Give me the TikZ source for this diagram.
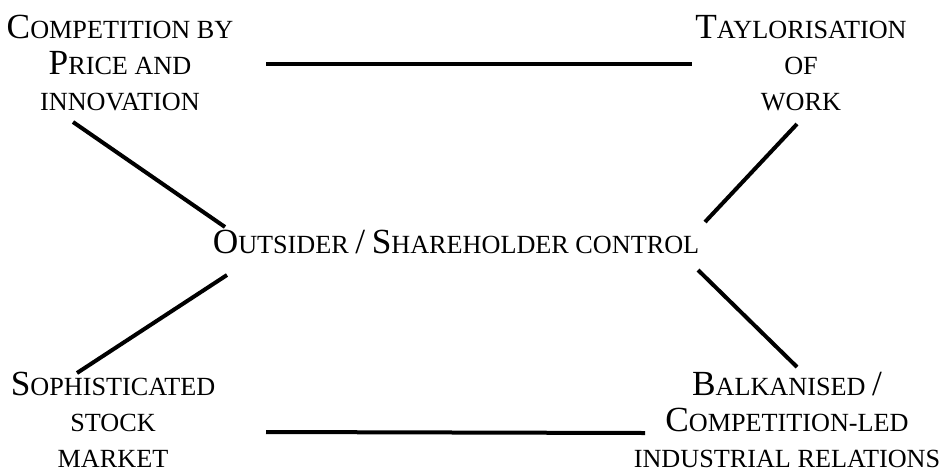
\documentclass[tikz,border=0pt]{standalone}
\usepackage{fontspec}
\setmainfont{Liberation Serif}
\newcommand\Cap[1]{{\fontsize{35.3}{36}\selectfont #1}}
\begin{document}
\begin{tikzpicture}[x=1pt,y=-1pt,
  lbl/.style={font=\fontsize{26.2}{36}\selectfont, align=center, inner sep=0pt, anchor=base},
  link/.style={line width=4pt}]
\useasboundingbox (0,0) rectangle (947,472);
\node[lbl] (tl) at (120,110) {\Cap{C}OMPETITION BY\\\Cap{P}RICE AND\\INNOVATION};
\node[lbl] (tr) at (801,110) {\Cap{T}AYLORISATION\\OF\\WORK};
\node[lbl] (c) at (456,253) {\Cap{O}UTSIDER \Cap{/} \Cap{S}HAREHOLDER CONTROL};
\node[lbl] (bl) at (113,467) {\Cap{S}OPHISTICATED\\STOCK\\MARKET};
\node[lbl] (br) at (787,467) {\Cap{B}ALKANISED \Cap{/}\\\Cap{C}OMPETITION-LED\\INDUSTRIAL RELATIONS};
\coordinate (tlh) at (266,64);
\coordinate (trh) at (692,64);
\coordinate (blh) at (266,432);
\coordinate (brh) at (645,433);
\coordinate (tld) at (73,122);
\coordinate (ctl) at (225,227);
\coordinate (trd) at (797,124);
\coordinate (ctr) at (705,222);
\coordinate (bld) at (77,373);
\coordinate (cbl) at (227,275);
\coordinate (brd) at (797,367);
\coordinate (cbr) at (698,270);
\draw[link] (tlh) -- (trh);
\draw[link] (blh) -- (brh);
\draw[link] (tld) -- (ctl);
\draw[link] (trd) -- (ctr);
\draw[link] (bld) -- (cbl);
\draw[link] (brd) -- (cbr);
\end{tikzpicture}
\end{document}
